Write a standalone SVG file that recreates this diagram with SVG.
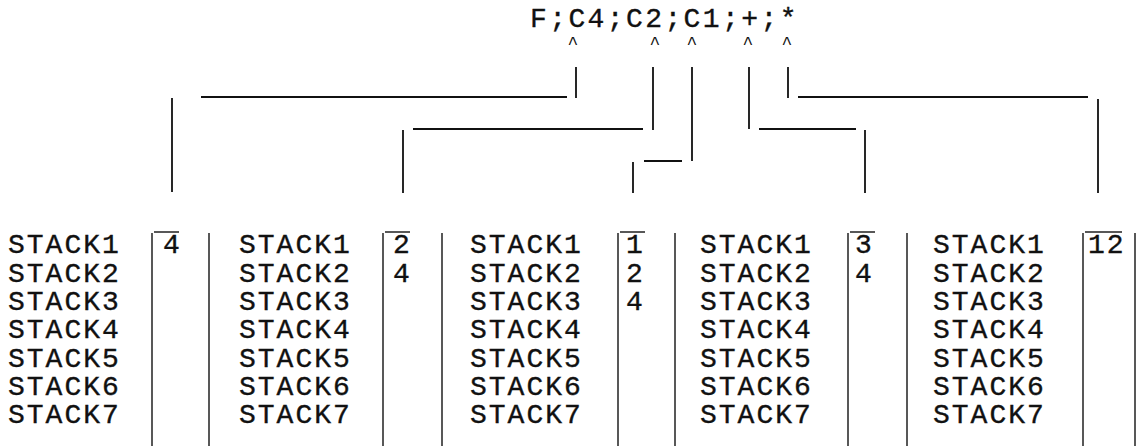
<svg xmlns="http://www.w3.org/2000/svg" width="1140" height="446" viewBox="0 0 1140 446">
<style>
.t{font-family:"Liberation Mono","Courier New","DejaVu Sans Mono",monospace;font-size:28px;letter-spacing:2px;fill:#111;stroke:#111;stroke-width:0.35}
.top{letter-spacing:2.4px}
.car{font-family:"Liberation Mono","DejaVu Sans Mono",monospace;font-size:18px;fill:#111;text-anchor:middle}
.ln{stroke:#111;stroke-width:1.8;fill:none;stroke-linecap:butt}
.bx{stroke:#222;stroke-width:1.5;fill:none}
</style>
<rect width="1140" height="446" fill="#fff"/>
<g id="expr">
<text class="t top" x="530" y="26.5">F;C4;C2;C1;+;*</text>
<text class="car" x="573" y="49">^</text>
<text class="car" x="655" y="49">^</text>
<text class="car" x="692" y="49">^</text>
<text class="car" x="748" y="49">^</text>
<text class="car" x="787" y="49">^</text>
</g>
<g id="connectors" class="ln">
<path d="M576 67V98M567 97H201M172 98V192"/>
<path d="M653 67V130M643 129H413M403 130V193"/>
<path d="M692 67V161M682 161H644M633 162V193"/>
<path d="M749 67V129M759 129H856M865 130V193"/>
<path d="M788 67V98M798 97H1088M1098 99V193"/>
</g>
<g id="stack-c4">
<text class="t" x="8" y="253.4">STACK1</text>
<text class="t" x="8" y="281.7">STACK2</text>
<text class="t" x="8" y="310">STACK3</text>
<text class="t" x="8" y="338.3">STACK4</text>
<text class="t" x="8" y="366.6">STACK5</text>
<text class="t" x="8" y="395">STACK6</text>
<text class="t" x="8" y="423.3">STACK7</text>
<path class="bx" d="M152 233V446M209 233V446M154 232H179"/>
<text class="t" x="163" y="253.4">4</text>
</g>
<g id="stack-c2">
<text class="t" x="239" y="253.4">STACK1</text>
<text class="t" x="239" y="281.7">STACK2</text>
<text class="t" x="239" y="310">STACK3</text>
<text class="t" x="239" y="338.3">STACK4</text>
<text class="t" x="239" y="366.6">STACK5</text>
<text class="t" x="239" y="395">STACK6</text>
<text class="t" x="239" y="423.3">STACK7</text>
<path class="bx" d="M383 233V446M442 233V446M385 232H410"/>
<text class="t" x="393" y="253.4">2</text>
<text class="t" x="393" y="281.7">4</text>
</g>
<g id="stack-c1">
<text class="t" x="470" y="253.4">STACK1</text>
<text class="t" x="470" y="281.7">STACK2</text>
<text class="t" x="470" y="310">STACK3</text>
<text class="t" x="470" y="338.3">STACK4</text>
<text class="t" x="470" y="366.6">STACK5</text>
<text class="t" x="470" y="395">STACK6</text>
<text class="t" x="470" y="423.3">STACK7</text>
<path class="bx" d="M618 233V446M675 233V446M620 232H645"/>
<text class="t" x="626" y="253.4">1</text>
<text class="t" x="626" y="281.7">2</text>
<text class="t" x="626" y="310">4</text>
</g>
<g id="stack-plus">
<text class="t" x="700" y="253.4">STACK1</text>
<text class="t" x="700" y="281.7">STACK2</text>
<text class="t" x="700" y="310">STACK3</text>
<text class="t" x="700" y="338.3">STACK4</text>
<text class="t" x="700" y="366.6">STACK5</text>
<text class="t" x="700" y="395">STACK6</text>
<text class="t" x="700" y="423.3">STACK7</text>
<path class="bx" d="M848 233V446M907 233V446M850 232H875"/>
<text class="t" x="855" y="253.4">3</text>
<text class="t" x="855" y="281.7">4</text>
</g>
<g id="stack-mul">
<text class="t" x="933" y="253.4">STACK1</text>
<text class="t" x="933" y="281.7">STACK2</text>
<text class="t" x="933" y="310">STACK3</text>
<text class="t" x="933" y="338.3">STACK4</text>
<text class="t" x="933" y="366.6">STACK5</text>
<text class="t" x="933" y="395">STACK6</text>
<text class="t" x="933" y="423.3">STACK7</text>
<path class="bx" d="M1083 233V446M1135 233V446M1085 232H1122"/>
<text class="t" x="1088" y="253.4">12</text>
</g>
</svg>
